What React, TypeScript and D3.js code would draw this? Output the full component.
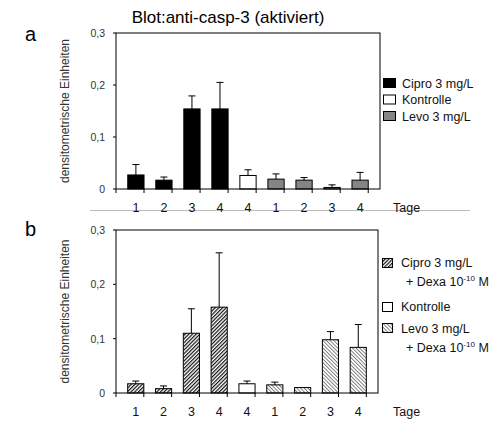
import React from 'react';
import * as d3 from 'd3';

// category labels along the x axis (Tage)
const days = ['1', '2', '3', '4', '4', '1', '2', '3', '4'];
// which group each bar belongs to: 0 = treated A, 1 = Kontrolle, 2 = treated B
const groupOf = [0, 0, 0, 0, 1, 2, 2, 2, 2];

// panel a: Cipro / Kontrolle / Levo
const valuesA = [0.027, 0.017, 0.154, 0.154, 0.026, 0.019, 0.017, 0.003, 0.017];
const errorsA = [0.047, 0.023, 0.179, 0.205, 0.037, 0.029, 0.022, 0.008, 0.032];

// panel b: Cipro + Dexa / Kontrolle / Levo + Dexa
const valuesB = [0.017, 0.008, 0.110, 0.158, 0.017, 0.015, 0.010, 0.098, 0.084];
const errorsB = [0.022, 0.013, 0.155, 0.258, 0.022, 0.020, 0.010, 0.113, 0.126];

const yTicks = [0, 0.1, 0.2, 0.3];
const legendA = ['Cipro 3 mg/L', 'Kontrolle', 'Levo 3 mg/L'];
const font = 'Liberation Sans, Arial, sans-serif';

const fmt = (v: number) => (v === 0 ? '0' : d3.format('.1f')(v).replace('.', ','));

type PanelProps = {
  top: number;
  bottom: number;
  right: number;
  values: number[];
  errors: number[];
  fills: string[];
};

function Panel({ top, bottom, right, values, errors, fills }: PanelProps) {
  const left = 116;
  const x = d3.scaleBand<number>().domain(d3.range(days.length)).range([left, right]).padding(0.42);
  const step = x.step();
  const y = d3.scaleLinear().domain([0, 0.3]).range([bottom, top]);

  return (
    <g>
      {/* bars */}
      {values.map((v, i) => (
        <rect
          key={'b' + i}
          x={x(i)}
          y={y(v)}
          width={x.bandwidth()}
          height={y(0) - y(v)}
          fill={fills[groupOf[i]]}
          stroke="#000"
          strokeWidth={1}
        />
      ))}
      {/* error bars */}
      {errors.map((e, i) => {
        const cx = (x(i) as number) + x.bandwidth() / 2;
        if (e <= values[i]) return null;
        return (
          <g key={'e' + i} stroke="#000" strokeWidth={1}>
            <line x1={cx} x2={cx} y1={y(values[i])} y2={y(e)} />
            <line x1={cx - 3.5} x2={cx + 3.5} y1={y(e)} y2={y(e)} />
          </g>
        );
      })}
      {/* frame */}
      <rect x={left} y={top} width={right - left} height={bottom - top} fill="none" stroke="#000" strokeWidth={1} />
      {/* y ticks */}
      {yTicks.map(t => (
        <g key={'y' + t}>
          <line x1={left - 3} x2={left} y1={y(t)} y2={y(t)} stroke="#000" />
          <text x={left - 11} y={y(t) + 4} textAnchor="end" fontSize={10.5} fill="#333">
            {fmt(t)}
          </text>
        </g>
      ))}
      {/* x ticks at band boundaries */}
      {d3.range(days.length + 1).map(i => (
        <line
          key={'xt' + i}
          x1={left + i * step}
          x2={left + i * step}
          y1={bottom}
          y2={bottom + 4}
          stroke="#000"
        />
      ))}
      {days.map((d, i) => (
        <text
          key={'xl' + i}
          x={(x(i) as number) + x.bandwidth() / 2}
          y={bottom + 23}
          textAnchor="middle"
          fontSize={12.5}
          fill="#111"
        >
          {d}
        </text>
      ))}
      <text x={393} y={bottom + 23} fontSize={12.5} fill="#111">
        Tage
      </text>
      <text
        transform={`translate(69,${(top + bottom) / 2}) rotate(-90)`}
        textAnchor="middle"
        fontSize={12}
        fill="#333"
      >
        densitometrische Einheiten
      </text>
    </g>
  );
}

export default function App() {
  const fillsA = ['#000', '#fff', '#858585'];
  const fillsB = ['url(#hatchDark)', '#fff', 'url(#hatchLight)'];

  return (
    <svg width={497} height={421} style={{ position: 'absolute', left: 0, top: 0 }} fontFamily={font}>
      <defs>
        <pattern id="hatchDark" patternUnits="userSpaceOnUse" width={2.6} height={2.6} patternTransform="rotate(45)">
          <rect width={2.6} height={2.6} fill="#fff" />
          <line x1={0} y1={0} x2={0} y2={2.6} stroke="#111" strokeWidth={2.4} />
        </pattern>
        <pattern id="hatchLight" patternUnits="userSpaceOnUse" width={2.6} height={2.6} patternTransform="rotate(-45)">
          <rect width={2.6} height={2.6} fill="#fff" />
          <line x1={0} y1={0} x2={0} y2={2.6} stroke="#777" strokeWidth={1.8} />
        </pattern>
      </defs>
      <rect width={497} height={421} fill="#fff" />

      <text x={228} y={23} textAnchor="middle" fontSize={17} fill="#000">
        Blot:anti-casp-3 (aktiviert)
      </text>
      <text x={25} y={41} fontSize={20} fill="#000">a</text>
      <text x={25} y={236} fontSize={20} fill="#000">b</text>

      <line x1={90} x2={470} y1={210.5} y2={210.5} stroke="#bbb" strokeWidth={1} />

      <Panel top={33} bottom={189} right={380} values={valuesA} errors={errorsA} fills={fillsA} />
      <Panel top={230} bottom={393} right={378} values={valuesB} errors={errorsB} fills={fillsB} />

      {/* legend a */}
      {legendA.map((l, i) => (
        <g key={'la' + i}>
          <rect x={383.5} y={78.5 + i * 16.5} width={12} height={9} fill={fillsA[i]} stroke="#000" />
          <text x={402} y={87.5 + i * 16.5} fontSize={12.5} fill="#111">
            {l}
          </text>
        </g>
      ))}

      {/* legend b */}
      <rect x={382.5} y={258.5} width={10} height={9} fill={fillsB[0]} stroke="#000" />
      <text x={401} y={267} fontSize={12.5} fill="#111">Cipro 3 mg/L</text>
      <text x={406} y={286} fontSize={12.5} fill="#111">
        + Dexa 10<tspan dy={-5} fontSize={8}>-10</tspan>
        <tspan dy={5}> M</tspan>
      </text>
      <rect x={382.5} y={302.5} width={10} height={9} fill={fillsB[1]} stroke="#000" />
      <text x={401} y={311} fontSize={12.5} fill="#111">Kontrolle</text>
      <rect x={382.5} y={323.5} width={10} height={9} fill={fillsB[2]} stroke="#000" />
      <text x={401} y={333} fontSize={12.5} fill="#111">Levo 3 mg/L</text>
      <text x={406} y={352} fontSize={12.5} fill="#111">
        + Dexa 10<tspan dy={-5} fontSize={8}>-10</tspan>
        <tspan dy={5}> M</tspan>
      </text>
    </svg>
  );
}
